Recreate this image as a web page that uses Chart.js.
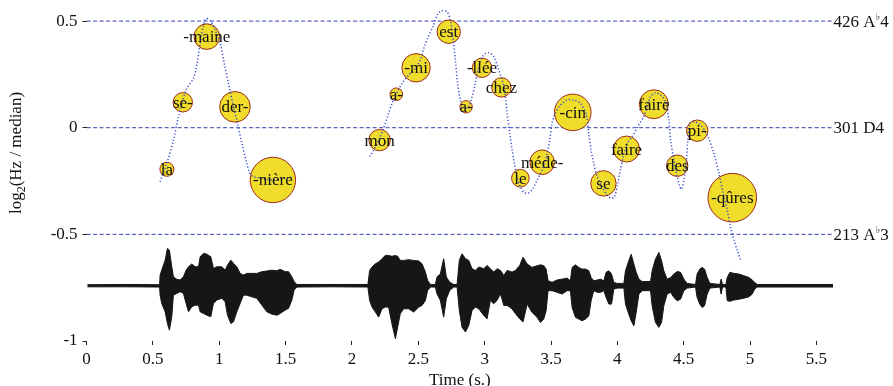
<!DOCTYPE html>
<html>
<head>
<meta charset="utf-8">
<title>Intonation</title>
<script src="https://cdn.jsdelivr.net/npm/chart.js@4.4.1/dist/chart.umd.min.js"></script>
<style>
  html, body { margin: 0; padding: 0; background: #fff; }
</style>
</head>
<body>
<canvas id="pitch" width="893" height="386"></canvas>
<script>
// ---- axes ----
const X_MAX = 5.625;
const Y_MIN = -1;
const Y_MAX = 0.58;
const xTicks = [0, 0.5, 1, 1.5, 2, 2.5, 3, 3.5, 4, 4.5, 5, 5.5];
const yTicks = [-1, -0.5, 0, 0.5];

// reference pitches (median = 301 Hz), in log2 units
const refLevels = [0.5, 0, -0.5];
const refHz     = [426, 301, 213];
const refNames  = ['A♭4', 'D4', 'A♭3'];

// syllables : time (s), log2(Hz/median), bubble radius (px)
const sylText = ['la', 'se-', '-maine', 'der-', '-nière', 'mon', 'a-', '-mi', 'est', 'a-', '-llée',
                 'chez', 'le', 'méde-', '-cin', 'se', 'faire', 'faire', 'des', 'pi-', '-qûres'];
const sylT = [0.605, 0.725, 0.906, 1.118, 1.404, 2.208, 2.334, 2.483, 2.729, 2.860, 2.980,
              3.126, 3.269, 3.433, 3.664, 3.895, 4.069, 4.275, 4.451, 4.602, 4.866];
const sylV = [-0.195, 0.119, 0.427, 0.098, -0.245, -0.058, 0.157, 0.281, 0.450, 0.098, 0.281,
              0.189, -0.237, -0.162, 0.072, -0.261, -0.100, 0.110, -0.178, -0.014, -0.328];
const sylR = [7, 9.7, 12.8, 15.3, 22.7, 10.7, 6.3, 14.2, 11.7, 6.2, 9.7,
              9.7, 8.8, 12.3, 18.3, 12.7, 13, 14.5, 10.7, 10.7, 24.3];

// f0 contour (null = unvoiced gap)
const contourT = [
  0.554, 0.605, 0.655, 0.692, 0.725, 0.756, 0.806, 0.831, 0.856, 0.881, 0.901, 0.931, 0.969,
  1.007, 1.037, 1.069, 1.107, 1.137, 1.170, 1.208, 1.238, 1.308, 1.409, 1.560,
  1.850,
  2.133, 2.163, 2.201, 2.238, 2.276, 2.302, 2.334, 2.377, 2.427, 2.477, 2.515, 2.545, 2.570,
  2.615, 2.646, 2.679, 2.716, 2.741, 2.762, 2.779, 2.796, 2.817, 2.842, 2.879, 2.905, 2.930,
  2.955, 2.992, 3.030, 3.068, 3.106, 3.139, 3.156, 3.169, 3.189, 3.207, 3.224, 3.244, 3.269,
  3.299, 3.332, 3.365, 3.395, 3.433, 3.465, 3.490, 3.508, 3.533, 3.571, 3.621, 3.671, 3.722,
  3.767, 3.784, 3.802, 3.822, 3.848, 3.885, 3.923, 3.953, 3.978, 4.003, 4.023, 4.044, 4.074,
  4.112, 4.161, 4.199, 4.224, 4.250, 4.287, 4.325, 4.363, 4.388, 4.401, 4.426, 4.451, 4.481,
  4.501, 4.521, 4.531, 4.546, 4.576, 4.627, 4.677, 4.727, 4.765, 4.798, 4.828, 4.858, 4.878,
  4.903, 4.928
];
const contourV = [
  -0.253, -0.167, -0.058, 0.052, 0.130, 0.185, 0.232, 0.294, 0.396, 0.481, 0.513, 0.502, 0.458,
  0.396, 0.302, 0.208, 0.098, 0.021, -0.073, -0.167, -0.222, -0.237, -0.245, -0.230,
  null,
  -0.136, -0.105, -0.058, -0.003, 0.068, 0.114, 0.157, 0.208, 0.247, 0.278, 0.317, 0.380, 0.419,
  0.481, 0.533, 0.549, 0.544, 0.505, 0.411, 0.317, 0.208, 0.130, 0.091, 0.098, 0.145, 0.208,
  0.286, 0.341, 0.352, 0.333, 0.271, 0.208, 0.145, 0.068, -0.026, -0.105, -0.167, -0.230, -0.277,
  -0.305, -0.305, -0.284, -0.245, -0.198, -0.136, -0.058, 0.021, 0.068, 0.106, 0.130, 0.130, 0.114,
  0.060, -0.026, -0.105, -0.167, -0.230, -0.277, -0.316, -0.331, -0.323, -0.261, -0.198, -0.136, -0.073,
  -0.042, 0.013, 0.052, 0.098, 0.145, 0.164, 0.153, 0.122, 0.036, -0.058, -0.151, -0.230, -0.289,
  -0.245, -0.151, -0.058, 0.021, 0.028, 0.013, -0.034, -0.120, -0.214, -0.308, -0.386, -0.480, -0.526,
  -0.573, -0.620
];

// waveform envelope, drawn around WAVE_BASE (upper / lower extent in axis units)
const WAVE_BASE = -0.741;
const waveT = [
  0.006, 0.300, 0.550, 0.554, 0.566, 0.592, 0.609, 0.624, 0.642, 0.654, 0.680, 0.705, 0.730,
  0.750, 0.768, 0.793, 0.818, 0.843, 0.856, 0.881, 0.906, 0.936, 0.956, 0.981, 1.019, 1.044,
  1.062, 1.087, 1.107, 1.132, 1.157, 1.182, 1.207, 1.245, 1.283, 1.321, 1.358, 1.396, 1.434,
  1.459, 1.497, 1.522, 1.547, 1.564, 1.585, 1.850, 2.120,
  2.133, 2.151, 2.176, 2.201, 2.226, 2.251, 2.276, 2.301, 2.327, 2.344, 2.364, 2.389, 2.427,
  2.465, 2.503, 2.528, 2.553, 2.570, 2.591, 2.628, 2.641, 2.666, 2.691, 2.711, 2.736, 2.767,
  2.792, 2.809, 2.829, 2.855, 2.880, 2.905, 2.930, 2.955, 2.993, 3.018, 3.043, 3.068, 3.093,
  3.119, 3.144, 3.169, 3.206, 3.232, 3.264, 3.289, 3.320, 3.357, 3.395, 3.420, 3.445, 3.463,
  3.478, 3.508, 3.546, 3.584, 3.621, 3.646, 3.659, 3.684, 3.709, 3.734, 3.760, 3.785, 3.802,
  3.822, 3.848, 3.873, 3.898, 3.915, 3.936, 3.956, 3.973, 3.998, 4.049, 4.061, 4.086, 4.104,
  4.124, 4.142, 4.162, 4.187, 4.250, 4.262, 4.287, 4.313, 4.333, 4.350, 4.375, 4.401, 4.426,
  4.451, 4.476, 4.501, 4.526, 4.589, 4.601, 4.621, 4.639, 4.657, 4.677, 4.697, 4.772, 4.782,
  4.792, 4.818, 4.828, 4.848, 4.878, 4.916, 4.953, 4.991, 5.016, 5.034, 5.054, 5.300, 5.627
];
const waveUp = [
  0.005, 0.006, 0.005, 0.050, 0.073, 0.120, 0.175, 0.167, 0.089, 0.042, 0.030, 0.027, 0.042,
  0.073, 0.089, 0.102, 0.089, 0.089, 0.136, 0.152, 0.148, 0.136, 0.081, 0.089, 0.089, 0.073,
  0.097, 0.120, 0.105, 0.089, 0.058, 0.050, 0.058, 0.058, 0.058, 0.066, 0.069, 0.073, 0.070,
  0.077, 0.066, 0.066, 0.042, 0.019, 0.006, 0.006, 0.006,
  0.072, 0.088, 0.103, 0.111, 0.127, 0.142, 0.142, 0.138, 0.142, 0.138, 0.119, 0.119, 0.122,
  0.119, 0.116, 0.103, 0.064, 0.025, 0.006, 0.006, 0.041, 0.056, 0.127, 0.041, 0.017, 0.006,
  0.006, 0.119, 0.150, 0.127, 0.119, 0.080, 0.072, 0.088, 0.080, 0.095, 0.080, 0.064, 0.080,
  0.072, 0.048, 0.072, 0.064, 0.072, 0.095, 0.134, 0.102, 0.086, 0.094, 0.098, 0.094, 0.078,
  0.023, 0.016, 0.027, 0.031, 0.036, 0.023, 0.086, 0.098, 0.086, 0.078, 0.078, 0.070, 0.039,
  0.023, 0.027, 0.031, 0.023, 0.063, 0.070, 0.055, 0.016, 0.011, 0.011, 0.070, 0.117, 0.148,
  0.102, 0.063, 0.031, 0.020, 0.020, 0.070, 0.125, 0.156, 0.117, 0.070, 0.031, 0.039, 0.055,
  0.067, 0.063, 0.031, 0.011, 0.006, 0.055, 0.078, 0.086, 0.078, 0.039, 0.011, 0.006, 0.031,
  0.006, 0.006, 0.039, 0.063, 0.058, 0.055, 0.047, 0.039, 0.027, 0.016, 0.006, 0.006, 0.006
];
const waveDown = [
  0.005, 0.005, 0.006, 0.044, 0.083, 0.122, 0.177, 0.208, 0.145, 0.044, 0.036, 0.028, 0.036,
  0.083, 0.122, 0.098, 0.091, 0.091, 0.122, 0.130, 0.138, 0.145, 0.083, 0.067, 0.059, 0.075,
  0.138, 0.177, 0.169, 0.122, 0.083, 0.044, 0.044, 0.052, 0.059, 0.091, 0.122, 0.133, 0.138,
  0.130, 0.114, 0.106, 0.067, 0.020, 0.006, 0.005, 0.006,
  0.069, 0.100, 0.123, 0.147, 0.108, 0.100, 0.100, 0.178, 0.248, 0.194, 0.131, 0.108, 0.108,
  0.123, 0.100, 0.092, 0.069, 0.022, 0.006, 0.006, 0.038, 0.069, 0.147, 0.061, 0.022, 0.006,
  0.006, 0.116, 0.194, 0.217, 0.186, 0.116, 0.100, 0.108, 0.139, 0.155, 0.069, 0.084, 0.069,
  0.038, 0.092, 0.092, 0.108, 0.131, 0.155, 0.170, 0.086, 0.125, 0.148, 0.172, 0.156, 0.117,
  0.023, 0.023, 0.031, 0.039, 0.023, 0.023, 0.102, 0.148, 0.156, 0.164, 0.156, 0.141, 0.070,
  0.023, 0.031, 0.031, 0.023, 0.055, 0.086, 0.086, 0.016, 0.011, 0.011, 0.086, 0.133, 0.164,
  0.188, 0.125, 0.039, 0.023, 0.023, 0.094, 0.172, 0.195, 0.172, 0.094, 0.039, 0.031, 0.055,
  0.070, 0.063, 0.023, 0.011, 0.006, 0.055, 0.086, 0.102, 0.094, 0.039, 0.011, 0.006, 0.039,
  0.006, 0.006, 0.070, 0.073, 0.067, 0.063, 0.058, 0.052, 0.039, 0.016, 0.006, 0.006, 0.006
];

const SERIF = '"Liberation Serif", "Times New Roman", serif';
const INK = '#111';

Chart.defaults.font.family = SERIF;
Chart.defaults.font.size = 17;
Chart.defaults.color = INK;

// syllable text, note names on the right and the rotated y title
const annotate = {
  id: 'annotate',
  afterDatasetsDraw(chart) {
    const { ctx, chartArea, scales } = chart;
    const yScale = scales.y;
    ctx.save();
    ctx.fillStyle = INK;

    ctx.font = '17px ' + SERIF;
    ctx.textAlign = 'center';
    ctx.textBaseline = 'middle';
    chart.getDatasetMeta(1).data.forEach((pt, i) => {
      ctx.fillText(sylText[i], pt.x, pt.y + 1);
    });

    ctx.textAlign = 'left';
    refLevels.forEach((lv, i) => {
      let x = chartArea.right + 0.5;
      const y = yScale.getPixelForValue(lv) + 1;
      const parts = (refHz[i] + ' ' + refNames[i]).split('♭');
      ctx.font = '17px ' + SERIF;
      ctx.fillText(parts[0], x, y);
      x += ctx.measureText(parts[0]).width;
      if (parts.length > 1) {
        ctx.font = '10px "DejaVu Serif", serif';
        ctx.fillText('♭', x, y - 5);
        x += ctx.measureText('♭').width;
        ctx.font = '17px ' + SERIF;
        ctx.fillText(parts[1], x, y);
      }
    });

    // log2(Hz / median), read bottom to top
    const a = 'log', sub = '2', b = '(Hz / median)';
    ctx.font = '17px ' + SERIF;
    const wa = ctx.measureText(a).width, wb = ctx.measureText(b).width;
    ctx.font = '12px ' + SERIF;
    const ws = ctx.measureText(sub).width;
    ctx.translate(17, 153);
    ctx.rotate(-Math.PI / 2);
    let x = -(wa + ws + wb) / 2;
    ctx.font = '17px ' + SERIF;
    ctx.fillText(a, x, 0);
    x += wa;
    ctx.font = '12px ' + SERIF;
    ctx.fillText(sub, x, 5);
    x += ws;
    ctx.font = '17px ' + SERIF;
    ctx.fillText(b, x, 0);
    ctx.restore();
  }
};

const pts = (xs, ys) => xs.map((x, i) => ({ x: x, y: ys[i] }));

const refSets = refLevels.map(lv => ({
  type: 'line',
  data: [{ x: 0, y: lv }, { x: X_MAX, y: lv }],
  borderColor: '#3342ad',
  borderWidth: 1,
  borderDash: [4, 2.5],
  pointRadius: 0,
  order: 2
}));

new Chart(document.getElementById('pitch'), {
  type: 'bubble',
  data: {
    datasets: [
      {
        type: 'line',
        data: pts(contourT, contourV),
        borderColor: 'rgba(52,68,205,0.95)',
        borderWidth: 1.5,
        borderDash: [1.2, 2.1],
        pointRadius: 0,
        tension: 0.3,
        spanGaps: false,
        order: 0
      },
      {
        type: 'bubble',
        data: sylT.map((t, i) => ({ x: t, y: sylV[i], r: sylR[i] })),
        backgroundColor: '#efdc2b',
        borderColor: '#9c2a1c',
        borderWidth: 1,
        order: 1
      },
      ...refSets,
      {
        type: 'line',
        data: pts(waveT, waveUp.map(v => WAVE_BASE + v)),
        borderColor: '#161616',
        backgroundColor: '#161616',
        borderWidth: 1,
        pointRadius: 0,
        fill: '+1',
        order: 3
      },
      {
        type: 'line',
        data: pts(waveT, waveDown.map(v => WAVE_BASE - v)),
        borderColor: '#161616',
        borderWidth: 1,
        pointRadius: 0,
        fill: false,
        order: 3
      }
    ]
  },
  options: {
    responsive: false,
    animation: false,
    events: [],
    layout: { autoPadding: false, padding: { top: 4, right: 60, bottom: 0, left: 0 } },
    plugins: {
      legend: { display: false },
      tooltip: { enabled: false }
    },
    scales: {
      x: {
        type: 'linear',
        min: 0,
        max: X_MAX,
        afterBuildTicks: s => { s.ticks = xTicks.map(v => ({ value: v })); },
        afterFit: s => { s.height = 45; s.paddingLeft = 0; s.paddingRight = 0; },
        border: { display: false },
        grid: { drawOnChartArea: false, tickLength: 4, tickColor: '#222' },
        ticks: { padding: 4, maxRotation: 0, callback: v => String(v) },
        title: {
          display: true,
          text: 'Time (s.)',
          font: { size: 17, lineHeight: 1 },
          padding: { top: 0, bottom: -3 }
        }
      },
      y: {
        type: 'linear',
        min: Y_MIN,
        max: Y_MAX,
        afterBuildTicks: s => { s.ticks = yTicks.map(v => ({ value: v })); },
        afterFit: s => { s.width = 86.6; s.paddingTop = 0; s.paddingBottom = 0; },
        border: { display: false },
        grid: { drawOnChartArea: false, tickLength: 4, tickColor: '#222' },
        ticks: { padding: 5, callback: v => String(v) }
      }
    }
  },
  plugins: [annotate]
});
</script>
</body>
</html>
